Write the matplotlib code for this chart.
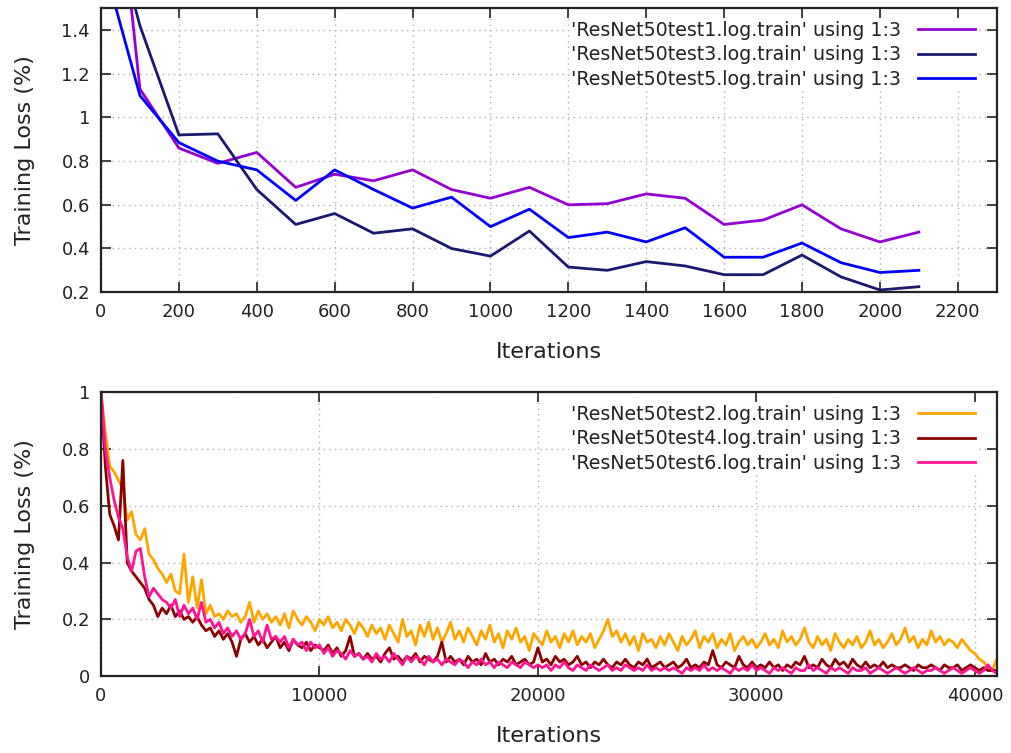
import numpy as np
import matplotlib
matplotlib.use("Agg")
import matplotlib.pyplot as plt

# top panel: one point every 100 iterations
iters_top = [0, 100, 200, 300, 400, 500, 600, 700, 800, 900, 1000,
             1100, 1200, 1300, 1400, 1500, 1600, 1700, 1800, 1900, 2000, 2100]
loss_test1 = [2.81, 1.13, 0.86, 0.79, 0.84, 0.68, 0.74, 0.71, 0.76, 0.67, 0.63,
              0.68, 0.60, 0.605, 0.65, 0.63, 0.51, 0.53, 0.60, 0.49, 0.43, 0.475]
loss_test3 = [2.09, 1.42, 0.92, 0.925, 0.67, 0.51, 0.56, 0.47, 0.49, 0.40, 0.365,
              0.48, 0.315, 0.30, 0.34, 0.32, 0.28, 0.28, 0.37, 0.27, 0.21, 0.225]
loss_test5 = [1.75, 1.10, 0.885, 0.80, 0.76, 0.62, 0.76, 0.67, 0.585, 0.635, 0.50,
              0.58, 0.45, 0.475, 0.43, 0.495, 0.36, 0.36, 0.425, 0.335, 0.29, 0.30]

# bottom panel: one point every 200 iterations
step_bottom = 200
loss_test2 = [1.00, 0.86, 0.74, 0.72, 0.69, 0.66, 0.55, 0.58, 0.50, 0.48, 0.52,
              0.43, 0.41, 0.38, 0.36, 0.33, 0.36, 0.30, 0.29, 0.43, 0.26,
              0.35, 0.24, 0.34, 0.22, 0.25, 0.21, 0.22, 0.20, 0.23, 0.21,
              0.22, 0.19, 0.21, 0.26, 0.19, 0.23, 0.20, 0.22, 0.19, 0.21,
              0.18, 0.22, 0.17, 0.23, 0.20, 0.18, 0.21, 0.19, 0.16, 0.20,
              0.18, 0.21, 0.17, 0.19, 0.16, 0.20, 0.18, 0.15, 0.19, 0.17,
              0.14, 0.18, 0.15, 0.17, 0.13, 0.18, 0.15, 0.12, 0.20, 0.14,
              0.16, 0.11, 0.18, 0.14, 0.19, 0.13, 0.17, 0.12, 0.15, 0.19,
              0.13, 0.16, 0.12, 0.17, 0.14, 0.11, 0.16, 0.13, 0.18, 0.12,
              0.15, 0.10, 0.16, 0.13, 0.17, 0.12, 0.14, 0.09, 0.15, 0.13,
              0.11, 0.16, 0.12, 0.14, 0.10, 0.15, 0.12, 0.16, 0.11, 0.14,
              0.12, 0.15, 0.10, 0.13, 0.16, 0.20, 0.14, 0.16, 0.12, 0.15,
              0.11, 0.14, 0.09, 0.15, 0.12, 0.13, 0.10, 0.14, 0.11, 0.15,
              0.12, 0.09, 0.14, 0.11, 0.13, 0.16, 0.10, 0.14, 0.12, 0.15,
              0.10, 0.13, 0.11, 0.15, 0.09, 0.12, 0.14, 0.11, 0.13, 0.10,
              0.12, 0.15, 0.11, 0.13, 0.10, 0.16, 0.12, 0.14, 0.11, 0.13,
              0.17, 0.12, 0.10, 0.14, 0.11, 0.13, 0.09, 0.15, 0.12, 0.10,
              0.13, 0.11, 0.14, 0.10, 0.12, 0.16, 0.11, 0.13, 0.10, 0.12,
              0.15, 0.11, 0.13, 0.17, 0.12, 0.14, 0.10, 0.13, 0.11, 0.16,
              0.12, 0.14, 0.11, 0.13, 0.12, 0.10, 0.13, 0.11, 0.09, 0.08,
              0.06, 0.05, 0.03, 0.02, 0.06]
loss_test4 = [1.00, 0.74, 0.57, 0.53, 0.48, 0.76, 0.40, 0.37, 0.35, 0.33, 0.31,
              0.27, 0.25, 0.21, 0.24, 0.22, 0.25, 0.21, 0.23, 0.20, 0.21,
              0.19, 0.21, 0.18, 0.16, 0.17, 0.14, 0.16, 0.13, 0.15, 0.12,
              0.07, 0.13, 0.15, 0.12, 0.14, 0.11, 0.13, 0.10, 0.12, 0.14,
              0.10, 0.12, 0.09, 0.13, 0.11, 0.10, 0.12, 0.09, 0.11, 0.10,
              0.09, 0.11, 0.08, 0.10, 0.07, 0.09, 0.14, 0.07, 0.08, 0.06,
              0.08, 0.06, 0.07, 0.05, 0.08, 0.10, 0.06, 0.07, 0.05, 0.07,
              0.06, 0.08, 0.05, 0.07, 0.06, 0.05, 0.07, 0.12, 0.05, 0.07,
              0.05, 0.06, 0.04, 0.07, 0.05, 0.06, 0.04, 0.08, 0.05, 0.06,
              0.04, 0.06, 0.05, 0.07, 0.04, 0.05, 0.06, 0.04, 0.05, 0.10,
              0.05, 0.06, 0.04, 0.07, 0.05, 0.06, 0.04, 0.05, 0.07, 0.04,
              0.05, 0.03, 0.05, 0.04, 0.06, 0.04, 0.03, 0.05, 0.04, 0.06,
              0.04, 0.03, 0.05, 0.04, 0.06, 0.03, 0.04, 0.05, 0.03, 0.04,
              0.05, 0.03, 0.04, 0.06, 0.03, 0.04, 0.03, 0.05, 0.04, 0.09,
              0.04, 0.03, 0.05, 0.04, 0.03, 0.07, 0.04, 0.03, 0.05, 0.03,
              0.04, 0.03, 0.05, 0.03, 0.04, 0.02, 0.04, 0.03, 0.05, 0.04,
              0.07, 0.03, 0.04, 0.03, 0.06, 0.04, 0.03, 0.06, 0.04, 0.05,
              0.03, 0.06, 0.04, 0.03, 0.05, 0.03, 0.04, 0.03, 0.05, 0.03,
              0.04, 0.03, 0.03, 0.04, 0.03, 0.02, 0.04, 0.03, 0.03, 0.04,
              0.03, 0.02, 0.04, 0.03, 0.03, 0.04, 0.02, 0.03, 0.04, 0.03,
              0.02, 0.03, 0.02, 0.02, 0.02]
loss_test6 = [1.00, 0.80, 0.70, 0.62, 0.56, 0.52, 0.42, 0.37, 0.44, 0.45, 0.35,
              0.28, 0.31, 0.29, 0.27, 0.26, 0.24, 0.27, 0.21, 0.25, 0.22,
              0.24, 0.20, 0.26, 0.19, 0.20, 0.17, 0.19, 0.15, 0.17, 0.14,
              0.16, 0.13, 0.15, 0.20, 0.14, 0.16, 0.12, 0.18, 0.13, 0.14,
              0.12, 0.14, 0.10, 0.13, 0.11, 0.12, 0.09, 0.12, 0.10, 0.11,
              0.08, 0.10, 0.07, 0.09, 0.08, 0.06, 0.09, 0.07, 0.08, 0.06,
              0.07, 0.05, 0.08, 0.06, 0.07, 0.05, 0.08, 0.06, 0.04, 0.07,
              0.05, 0.07, 0.06, 0.04, 0.07, 0.05, 0.06, 0.04, 0.06, 0.05,
              0.04, 0.06, 0.05, 0.03, 0.05, 0.04, 0.06, 0.04, 0.05, 0.03,
              0.05, 0.04, 0.03, 0.05, 0.04, 0.03, 0.05, 0.04, 0.03, 0.04,
              0.03, 0.04, 0.02, 0.04, 0.03, 0.05, 0.03, 0.02, 0.04, 0.03,
              0.02, 0.04, 0.03, 0.02, 0.03, 0.04, 0.02, 0.03, 0.02, 0.04,
              0.03, 0.02, 0.03, 0.02, 0.04, 0.02, 0.03, 0.02, 0.03, 0.02,
              0.03, 0.02, 0.01, 0.03, 0.02, 0.03, 0.02, 0.04, 0.02, 0.03,
              0.02, 0.03, 0.02, 0.01, 0.03, 0.02, 0.03, 0.02, 0.04, 0.02,
              0.03, 0.02, 0.01, 0.03, 0.02, 0.03, 0.02, 0.01, 0.03, 0.02,
              0.02, 0.04, 0.02, 0.03, 0.02, 0.01, 0.03, 0.02, 0.03, 0.02,
              0.01, 0.03, 0.02, 0.02, 0.03, 0.01, 0.02, 0.03, 0.02, 0.01,
              0.02, 0.03, 0.02, 0.01, 0.02, 0.03, 0.02, 0.01, 0.02, 0.02,
              0.03, 0.02, 0.01, 0.02, 0.03, 0.02, 0.01, 0.02, 0.03, 0.02,
              0.01, 0.02, 0.04, 0.02, 0.01]

top_series = [("'ResNet50test1.log.train' using 1:3", loss_test1, '#9400d3'),
              ("'ResNet50test3.log.train' using 1:3", loss_test3, '#191970'),
              ("'ResNet50test5.log.train' using 1:3", loss_test5, '#0000ff')]
bottom_series = [("'ResNet50test2.log.train' using 1:3", loss_test2, '#ffa500'),
                 ("'ResNet50test4.log.train' using 1:3", loss_test4, '#8b0000'),
                 ("'ResNet50test6.log.train' using 1:3", loss_test6, '#ff1493')]

plt.rcParams['font.family'] = 'DejaVu Sans'
fig = plt.figure(figsize=(10.11, 7.53), dpi=100)
ax1 = fig.add_axes([0.0999, 0.612, 0.886, 0.377])
ax2 = fig.add_axes([0.0999, 0.102, 0.886, 0.377])


def style_axis(ax):
    ax.grid(True, linestyle=(0, (1, 3)), color='#b0b0b0', linewidth=1.0)
    ax.set_axisbelow(True)
    ax.tick_params(direction='in', top=True, right=True, length=7,
                   width=1.2, labelsize=13, colors='#222222', pad=8)
    for sp in ax.spines.values():
        sp.set_linewidth(1.6)
        sp.set_color('#222222')
    ax.set_ylabel('Training Loss (%)', fontsize=16, color='#222222', labelpad=19)
    ax.set_xlabel('Iterations', fontsize=16, color='#222222', labelpad=15)


for label, vals, col in top_series:
    ax1.plot(iters_top, vals, color=col, lw=2.0, label=label)
ax1.set_xlim(0, 2300)
ax1.set_ylim(0.2, 1.5)
ax1.set_xticks(np.arange(0, 2201, 200))
ax1.set_yticks([0.2, 0.4, 0.6, 0.8, 1.0, 1.2, 1.4])
ax1.set_yticklabels(['0.2', '0.4', '0.6', '0.8', '1', '1.2', '1.4'])
style_axis(ax1)

for label, vals, col in bottom_series:
    x = np.arange(len(vals)) * step_bottom
    ax2.plot(x, vals, color=col, lw=2.0, label=label)
ax2.set_xlim(0, 41000)
ax2.set_ylim(0, 1)
ax2.set_xticks([0, 10000, 20000, 30000, 40000])
ax2.set_yticks([0, 0.2, 0.4, 0.6, 0.8, 1.0])
ax2.set_yticklabels(['0', '0.2', '0.4', '0.6', '0.8', '1'])
style_axis(ax2)

for ax in (ax1, ax2):
    leg = ax.legend(loc='upper right', bbox_to_anchor=(0.978, 0.963),
                    fontsize=13.7, markerfirst=False,
                    handlelength=3.0, handletextpad=0.9, labelspacing=0.3,
                    borderaxespad=0.0, borderpad=0.1, frameon=True, fancybox=False)
    leg.get_frame().set_facecolor('white')
    leg.get_frame().set_edgecolor('none')
    leg.get_frame().set_alpha(1.0)
    for t in leg.get_texts():
        t.set_color('#222222')

fig.savefig('out.png', dpi=100)
